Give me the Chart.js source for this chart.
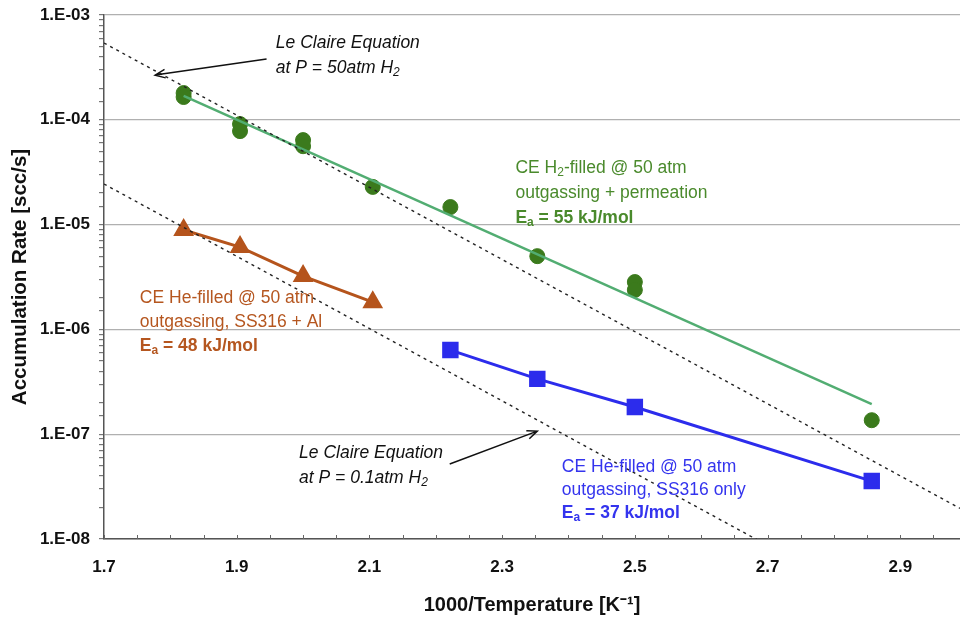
<!DOCTYPE html>
<html>
<head>
<meta charset="utf-8">
<script src="https://cdn.jsdelivr.net/npm/chart.js@4.4.1/dist/chart.umd.min.js"></script>
<style>
  html, body { margin: 0; padding: 0; background: #fff; overflow: hidden; }
  #wrap { position: relative; width: 960px; height: 619px; }
  canvas { display: block; }
</style>
</head>
<body>
<div id="wrap"><canvas id="chart"></canvas></div>
<script>
// H2-filled @ 50 atm (outgassing + permeation)
const h2X = [1.82, 1.82, 1.905, 1.905, 2.0, 2.0, 2.105, 2.222, 2.353, 2.5, 2.5, 2.857];
const h2Y = [1.8e-4, 1.65e-4, 9.1e-5, 7.8e-5, 6.4e-5, 5.6e-5, 2.29e-5, 1.47e-5, 5.0e-6, 2.83e-6, 2.38e-6, 1.36e-7];
// fitted line, Ea = 55 kJ/mol
const h2FitX = [1.82, 2.857];
const h2FitY = [1.69e-4, 1.94e-7];
// He-filled, SS316 + Al
const heAlX = [1.82, 1.905, 2.0, 2.105];
const heAlY = [8.87e-6, 6.1e-6, 3.23e-6, 1.82e-6];
// He-filled, SS316 only
const heSsX = [2.222, 2.353, 2.5, 2.857];
const heSsY = [6.35e-7, 3.37e-7, 1.82e-7, 3.57e-8];
// Le Claire equation lines
const lc50X = [1.7, 2.99];
const lc50Y = [5.4e-4, 1.96e-8];
const lc01X = [1.7, 2.69];
const lc01Y = [2.44e-5, 9.4e-9];

const xLabels = ["1.7", "1.9", "2.1", "2.3", "2.5", "2.7", "2.9"];
const yLabels = ["1.E-08", "1.E-07", "1.E-06", "1.E-05", "1.E-04", "1.E-03"];

const pts = (xs, ys) => xs.map((x, i) => ({ x: x, y: ys[i] }));

const FONT = "'Liberation Sans', Arial, sans-serif";

// text annotations: anchor in data units for the first line, then lines of runs
const notes = [
  { x: 1.959, y: 10 ** -3.267, color: "#111", italic: true, gap: 25,
    lines: [[["Le Claire Equation"]], [["at P = 50atm H"], ["2", "sub"]]] },
  { x: 1.994, y: 10 ** -7.179, color: "#111", italic: true, gap: 25,
    lines: [[["Le Claire Equation"]], [["at P = 0.1atm H"], ["2", "sub"]]] },
  { x: 2.320, y: 10 ** -4.46, color: "#4a8a2c", gap: 25,
    lines: [[["CE H"], ["2", "sub"], ["-filled @ 50 atm"]], [["outgassing + permeation"]],
            [["E", "bold"], ["a", "subbold"], [" = 55 kJ/mol", "bold"]]] },
  { x: 1.754, y: 10 ** -5.70, color: "#b5561f", gap: 24,
    lines: [[["CE He-filled @ 50 atm"]], [["outgassing, SS316 + Al"]],
            [["E", "bold"], ["a", "subbold"], [" = 48 kJ/mol", "bold"]]] },
  { x: 2.390, y: 10 ** -7.313, color: "#3434ee", gap: 23,
    lines: [[["CE He-filled @ 50 atm"]], [["outgassing, SS316 only"]],
            [["E", "bold"], ["a", "subbold"], [" = 37 kJ/mol", "bold"]]] }
];

const arrows = [
  { from: [1.945, 3.8e-4], to: [1.777, 2.67e-4] },
  { from: [2.221, 5.2e-8], to: [2.353, 1.07e-7] }
];

const annotations = {
  id: "annotations",
  beforeDatasetsDraw(chart) {
    // inward tick marks on the x axis
    const { ctx, scales: { x }, chartArea } = chart;
    ctx.save();
    ctx.strokeStyle = "#666";
    ctx.lineWidth = 1;
    x.ticks.forEach(t => {
      const px = Math.round(x.getPixelForValue(t.value)) + 0.5;
      ctx.beginPath();
      ctx.moveTo(px, chartArea.bottom);
      ctx.lineTo(px, chartArea.bottom - 4);
      ctx.stroke();
    });
    ctx.restore();
  },
  afterDraw(chart) {
    const { ctx, scales: { x, y } } = chart;
    ctx.save();
    notes.forEach(n => {
      const x0 = x.getPixelForValue(n.x);
      let y0 = y.getPixelForValue(n.y);
      ctx.fillStyle = n.color;
      ctx.textBaseline = "middle";
      n.lines.forEach(line => {
        let cx = x0;
        line.forEach(([txt, mode]) => {
          const it = n.italic ? "italic " : "";
          const bold = mode === "bold" || mode === "subbold" ? "bold " : "";
          const sub = mode === "sub" || mode === "subbold";
          ctx.font = it + bold + (sub ? "12px " : "17.5px ") + FONT;
          ctx.fillText(txt, cx, y0 + (sub ? 5 : 0));
          cx += ctx.measureText(txt).width;
        });
        y0 += n.gap;
      });
    });
    ctx.strokeStyle = "#111";
    ctx.lineWidth = 1.5;
    arrows.forEach(a => {
      const x1 = x.getPixelForValue(a.from[0]), y1 = y.getPixelForValue(a.from[1]);
      const x2 = x.getPixelForValue(a.to[0]), y2 = y.getPixelForValue(a.to[1]);
      const ang = Math.atan2(y2 - y1, x2 - x1);
      ctx.beginPath();
      ctx.moveTo(x1, y1);
      ctx.lineTo(x2, y2);
      ctx.moveTo(x2 - 11 * Math.cos(ang - 0.4), y2 - 11 * Math.sin(ang - 0.4));
      ctx.lineTo(x2, y2);
      ctx.lineTo(x2 - 11 * Math.cos(ang + 0.4), y2 - 11 * Math.sin(ang + 0.4));
      ctx.stroke();
    });
    ctx.restore();
  }
};

new Chart(document.getElementById("chart"), {
  type: "scatter",
  data: {
    datasets: [
      {
        label: "Le Claire 50 atm",
        data: pts(lc50X, lc50Y),
        showLine: true,
        borderColor: "#222",
        borderWidth: 1.4,
        borderDash: [3, 4],
        pointRadius: 0
      },
      {
        label: "Le Claire 0.1 atm",
        data: pts(lc01X, lc01Y),
        showLine: true,
        borderColor: "#222",
        borderWidth: 1.4,
        borderDash: [3, 4],
        pointRadius: 0
      },
      {
        label: "H2 fit",
        data: pts(h2FitX, h2FitY),
        showLine: true,
        borderColor: "#52ad72",
        borderWidth: 2.5,
        pointRadius: 0
      },
      {
        label: "H2-filled",
        data: pts(h2X, h2Y),
        backgroundColor: "#3b7a1c",
        borderColor: "#3b7a1c",
        pointStyle: "circle",
        pointRadius: 7.5
      },
      {
        label: "He-filled SS316 + Al",
        data: pts(heAlX, heAlY),
        showLine: true,
        borderColor: "#b5541c",
        backgroundColor: "#b5541c",
        borderWidth: 3,
        pointStyle: "triangle",
        pointRadius: 9
      },
      {
        label: "He-filled SS316 only",
        data: pts(heSsX, heSsY),
        showLine: true,
        borderColor: "#2c2cec",
        backgroundColor: "#2c2cec",
        borderWidth: 3,
        pointStyle: "rect",
        pointRadius: 9.5
      }
    ]
  },
  options: {
    responsive: true,
    maintainAspectRatio: false,
    animation: false,
    layout: { autoPadding: false, padding: { top: 15, left: 0, right: 0, bottom: 0 } },
    plugins: {
      legend: { display: false },
      tooltip: { enabled: false }
    },
    scales: {
      x: {
        type: "linear",
        min: 1.7,
        max: 2.99,
        afterBuildTicks: scale => {
          const t = [];
          for (let i = 0; i <= 25; i++) t.push({ value: 1.7 + i * 0.05 });
          scale.ticks = t;
        },
        afterFit: scale => {
          scale.height = 80;
          scale.paddingLeft = 0;
          scale.paddingRight = 0;
        },
        grid: { drawOnChartArea: false, drawTicks: false },
        border: { color: "#555", width: 1.5 },
        ticks: {
          autoSkip: false,
          maxRotation: 0,
          padding: 18,
          color: "#111",
          font: { family: FONT, size: 17, weight: "bold" },
          callback: v => {
            const lbl = v.toFixed(1);
            return Math.abs(v - Number(lbl)) < 1e-6 && xLabels.includes(lbl) ? lbl : "";
          }
        },
        title: {
          display: true,
          text: "1000/Temperature [K⁻¹]",
          color: "#111",
          font: { family: FONT, size: 20, weight: "bold" },
          padding: { top: 0, bottom: 2 }
        }
      },
      y: {
        type: "logarithmic",
        min: 1e-8,
        max: 1e-3,
        afterFit: scale => {
          scale.width = 104;
          scale.paddingTop = 0;
          scale.paddingBottom = 0;
        },
        grid: {
          color: c => {
            const e = Math.log10(c.tick.value);
            return Math.abs(e - Math.round(e)) < 1e-6 ? "#b0b0b0" : "rgba(0,0,0,0)";
          },
          lineWidth: 1.2,
          tickColor: "#777",
          tickLength: 5
        },
        border: { color: "#555", width: 1.5 },
        ticks: {
          autoSkip: false,
          padding: 9,
          color: "#111",
          font: { family: FONT, size: 17, weight: "bold" },
          callback: v => {
            const e = Math.log10(v);
            if (Math.abs(e - Math.round(e)) > 1e-6) return "";
            return yLabels[Math.round(e) + 8];
          }
        },
        title: {
          display: true,
          text: "Accumulation Rate [scc/s]",
          color: "#111",
          font: { family: FONT, size: 20.5, weight: "bold" },
          padding: { top: 8, bottom: 0 }
        }
      }
    }
  },
  plugins: [annotations]
});
</script>
</body>
</html>
